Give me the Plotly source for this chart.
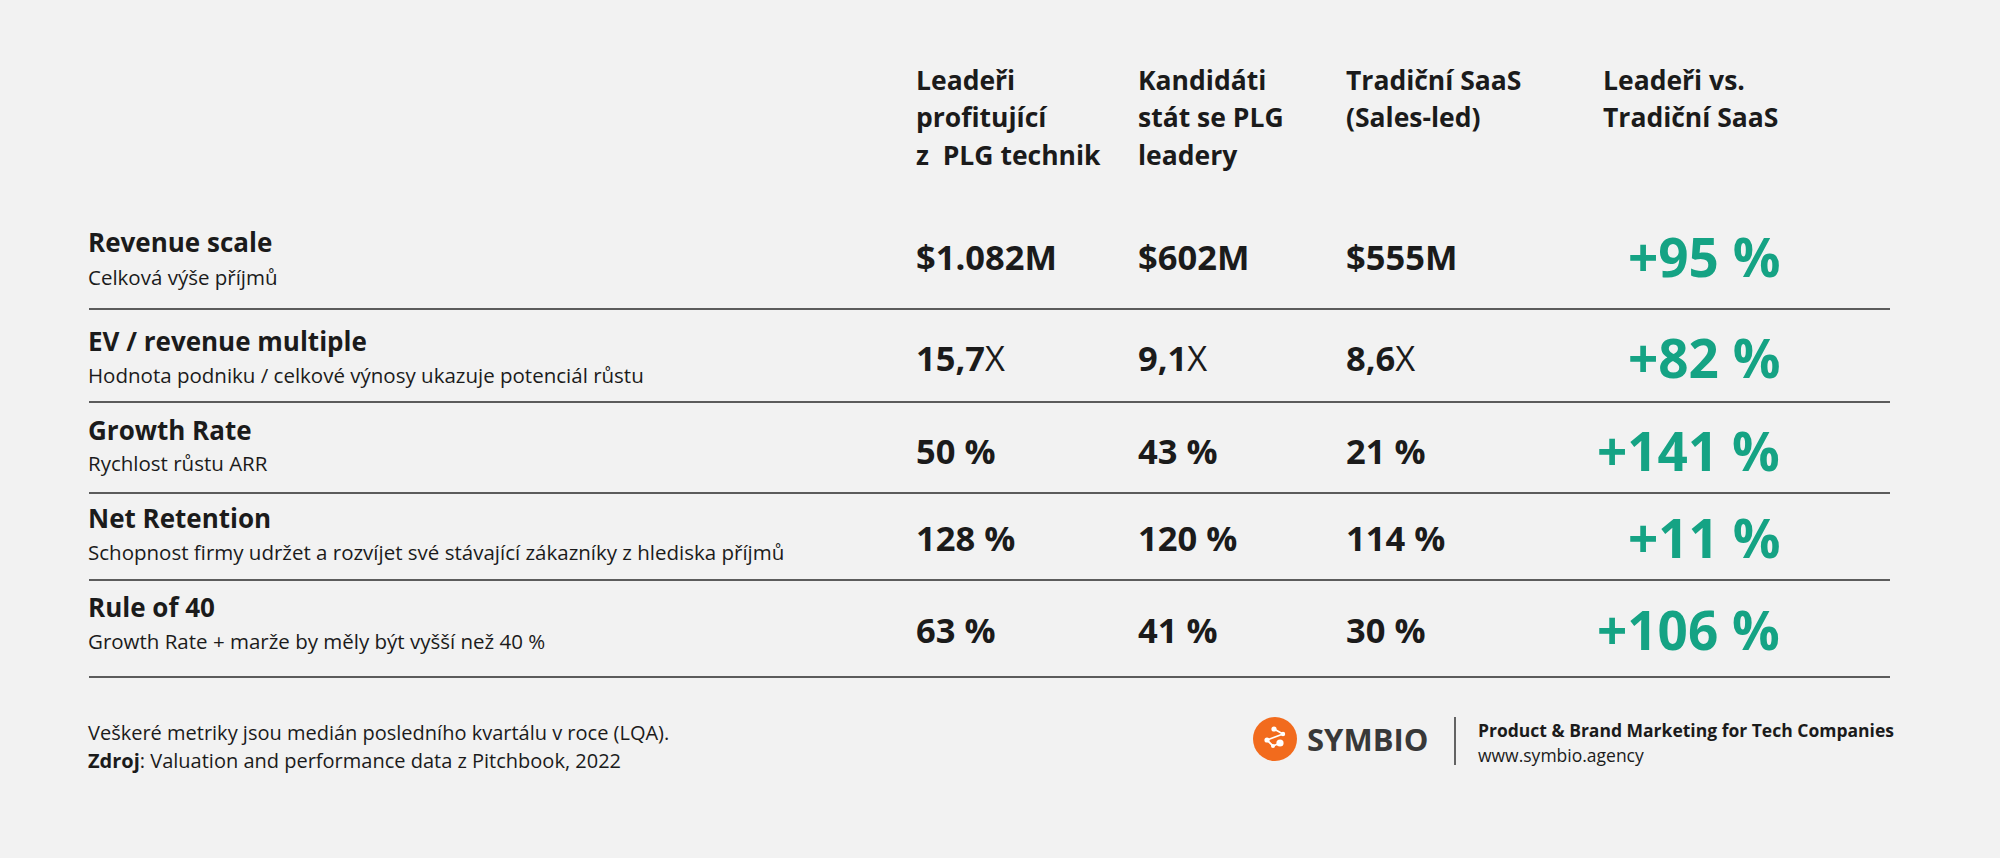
import plotly.graph_objects as go

# ---------------- data ----------------
column_headers = [
    ["Leadeři", "profitující", "z  PLG technik"],
    ["Kandidáti", "stát se PLG", "leadery"],
    ["Tradiční SaaS", "(Sales-led)"],
    ["Leadeři vs.", "Tradiční SaaS"],
]
metric_titles = ["Revenue scale", "EV / revenue multiple", "Growth Rate", "Net Retention", "Rule of 40"]
metric_subtitles = [
    "Celková výše příjmů",
    "Hodnota podniku / celkové výnosy ukazuje potenciál růstu",
    "Rychlost růstu ARR",
    "Schopnost firmy udržet a rozvíjet své stávající zákazníky z hlediska příjmů",
    "Growth Rate + marže by měly být vyšší než 40 %",
]
leaders = ["$1.082M", "15,7", "50 %", "128 %", "63 %"]
candidates = ["$602M", "9,1", "43 %", "120 %", "41 %"]
traditional = ["$555M", "8,6", "21 %", "114 %", "30 %"]
value_suffix = ["", "X", "", "", ""]
leaders_vs_traditional = ["+95 %", "+82 %", "+141 %", "+11 %", "+106 %"]
footnote_lines = [
    "Veškeré metriky jsou medián posledního kvartálu v roce (LQA).",
    "<b>Zdroj</b>: Valuation and performance data z Pitchbook, 2022",
]
brand_name = "SYMBIO"
brand_tagline = "Product & Brand Marketing for Tech Companies"
brand_url = "www.symbio.agency"

# ---------------- layout constants ----------------
W, H = 2000, 858
BG = "#f2f2f2"
INK = "#1b1b1b"
GREEN = "#15a384"
ORANGE = "#f26b1d"
FONT = "Open Sans"

col_x = [914, 1136, 1344]
diff_right_x = 1782
header_x = [914, 1136, 1344, 1601]
header_line_y = [80, 117, 155]
title_y = [242, 341, 430, 518, 607]
sub_y = [277, 375, 463, 552, 641]
value_y = [256, 357, 450, 537, 629]
rule_y = [309, 402, 493, 580, 677]
line_x0, line_x1 = 89, 1890
label_x = 86

fig = go.Figure()
ann = []

# headers
for hx, lines in zip(header_x, column_headers):
    for ly, txt in zip(header_line_y, lines):
        ann.append(dict(x=hx, y=ly, text=f"<b>{txt}</b>", xanchor="left", yanchor="middle",
                        font=dict(family=FONT, size=26.5, color=INK)))

# rows: titles & subtitles
for t, s, ty, sy in zip(metric_titles, metric_subtitles, title_y, sub_y):
    ann.append(dict(x=label_x, y=ty, text=f"<b>{t}</b>", xanchor="left", yanchor="middle",
                    font=dict(family=FONT, size=26, color=INK)))
    ann.append(dict(x=label_x, y=sy, text=s, xanchor="left", yanchor="middle",
                    font=dict(family=FONT, size=20.5, color=INK)))

# values
for cx, series in zip(col_x, [leaders, candidates, traditional]):
    for v, suf, vy in zip(series, value_suffix, value_y):
        ann.append(dict(x=cx, y=vy, text=f"<b>{v}</b>{suf}", xanchor="left", yanchor="middle",
                        font=dict(family=FONT, size=34.5, color=INK)))

# diffs
for d, vy in zip(leaders_vs_traditional, value_y):
    ann.append(dict(x=diff_right_x, y=vy, text=f"<b>{d}</b>", xanchor="right", yanchor="middle",
                    font=dict(family=FONT, size=53, color=GREEN)))

# footnotes
for ly, txt in zip([732, 760], footnote_lines):
    ann.append(dict(x=label_x, y=ly, text=txt, xanchor="left", yanchor="middle",
                    font=dict(family=FONT, size=20, color=INK)))

# brand
ann.append(dict(x=1305, y=739, text=f"<b>{brand_name}</b>", xanchor="left", yanchor="middle",
                font=dict(family=FONT, size=31, color="#383838")))
ann.append(dict(x=1476, y=730, text=f"<b>{brand_tagline}</b>", xanchor="left", yanchor="middle",
                font=dict(family=FONT, size=17.5, color=INK)))
ann.append(dict(x=1476, y=755, text=brand_url, xanchor="left", yanchor="middle",
                font=dict(family=FONT, size=17.5, color=INK)))

for a in ann:
    a.update(xref="x", yref="y", showarrow=False)

shapes = []
for ry in rule_y:
    shapes.append(dict(type="line", xref="x", yref="y", x0=line_x0, x1=line_x1, y0=ry, y1=ry,
                       line=dict(color="#2a2a2a", width=1.6)))
# brand divider
shapes.append(dict(type="line", xref="x", yref="y", x0=1455, x1=1455, y0=717, y1=765,
                   line=dict(color="#333333", width=1.5)))
# logo circle
cx, cy, r = 1275, 739, 22
shapes.append(dict(type="circle", xref="x", yref="y", x0=cx - r, x1=cx + r, y0=cy - r, y1=cy + r,
                   fillcolor=ORANGE, line=dict(width=0)))
# logo network icon
nodes = [(cx - 1, cy - 10, 2.6), (cx + 8, cy - 5, 2.2), (cx - 8, cy + 1, 2.6), (cx - 2, cy + 7, 2.0), (cx + 5, cy + 4, 3.6)]
for (ax_, ay_, _), (bx_, by_, _) in zip(nodes[:-1], nodes[1:]):
    shapes.append(dict(type="line", xref="x", yref="y", x0=ax_, x1=bx_, y0=ay_, y1=by_,
                       line=dict(color="white", width=1.8)))
for nx, ny, nr in nodes:
    shapes.append(dict(type="circle", xref="x", yref="y", x0=nx - nr, x1=nx + nr, y0=ny - nr, y1=ny + nr,
                       fillcolor="white", line=dict(width=0)))

fig.update_layout(
    width=W, height=H, margin=dict(l=0, r=0, t=0, b=0),
    paper_bgcolor=BG, plot_bgcolor=BG,
    xaxis=dict(range=[0, W], visible=False, fixedrange=True),
    yaxis=dict(range=[H, 0], visible=False, fixedrange=True),
    annotations=ann, shapes=shapes, showlegend=False,
)
fig.write_html("out.html", config={"displayModeBar": False},
               post_script="document.body.style.margin='0';document.body.style.overflow='hidden';")
